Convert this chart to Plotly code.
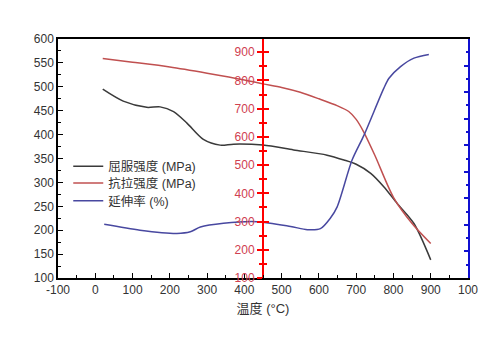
import plotly.graph_objects as go

# Yield strength (left axis, MPa)
t_yield = [20, 75, 138, 174, 210, 246, 290, 335, 371, 450, 532, 622, 667, 700, 739, 774, 810, 855, 900]
yield_mpa = [495, 470, 457, 458, 448, 424, 390, 378, 380, 378, 368, 357, 347, 338, 319, 291, 256, 214, 138]

# Tensile strength (red middle axis, MPa)
t_tensile = [20, 100, 200, 300, 400, 450, 500, 550, 600, 650, 680, 700, 720, 750, 800, 850, 900]
tensile_mpa = [878, 865, 848, 826, 802, 788, 775, 758, 735, 710, 690, 662, 618, 535, 386, 293, 222]

# Elongation (blue right axis, %)
t_elong = [24, 120, 219, 255, 282, 344, 434, 524, 569, 604, 631, 649, 689, 721, 774, 788, 819, 855, 895]
elong_pct = [10.1, 9.0, 8.4, 8.7, 9.6, 10.3, 10.6, 9.7, 9.1, 9.3, 11.3, 13.4, 22.2, 26.9, 35.7, 37.6, 39.8, 41.4, 42.1]

x_tickvals = [-100, 0, 100, 200, 300, 400, 500, 600, 700, 800, 900, 1000]
x_ticktext = ["-100", "0", "100", "200", "300", "400", "500", "600", "700", "800", "900", "100"]

names = ["屈服强度 (MPa)", "抗拉强度 (MPa)", "延伸率 (%)"]

font_family = "Arial, Liberation Sans, Noto Sans CJK SC, sans-serif"
RED_RANGE = [100, 947]

fig = go.Figure()
fig.add_trace(go.Scatter(x=t_yield, y=yield_mpa, name=names[0], mode="lines",
                         line=dict(color="#3a3a3a", width=1.5, shape="spline", smoothing=0.8),
                         yaxis="y", legend="legend"))
fig.add_trace(go.Scatter(x=t_tensile, y=tensile_mpa, name=names[1], mode="lines",
                         line=dict(color="#c05050", width=1.5, shape="spline", smoothing=0.8),
                         yaxis="y2", legend="legend2"))
fig.add_trace(go.Scatter(x=t_elong, y=elong_pct, name=names[2], mode="lines",
                         line=dict(color="#4848a0", width=1.5, shape="spline", smoothing=0.8),
                         yaxis="y3", legend="legend3"))

leg_common = dict(x=0.025, xanchor="left", yanchor="middle", bgcolor="rgba(0,0,0,0)",
                  font=dict(size=12.5, color="#333"), itemwidth=30)

fig.update_layout(
    width=500, height=340,
    margin=dict(l=58, r=32, t=39, b=62),
    paper_bgcolor="white", plot_bgcolor="white",
    font=dict(family=font_family, size=12, color="#333"),
    showlegend=True,
    legend=dict(y=0.466, **leg_common),
    legend2=dict(y=0.396, **leg_common),
    legend3=dict(y=0.322, **leg_common),
    xaxis=dict(range=[-100, 1000], tickvals=x_tickvals, ticktext=x_ticktext,
               showgrid=False, zeroline=False, showline=True, linecolor="black", linewidth=1.5,
               mirror=True, ticks="inside", ticklen=5, tickcolor="black",
               minor=dict(ticks="inside", ticklen=3, dtick=50, tickcolor="black"),
               title=dict(text="温度 (°C)", font=dict(size=13, color="#333"), standoff=8)),
    yaxis=dict(range=[100, 600], dtick=50, showgrid=False, zeroline=False,
               showline=True, linecolor="black", linewidth=1.5,
               ticks="inside", ticklen=5, tickcolor="black",
               minor=dict(ticks="inside", ticklen=3, dtick=25, tickcolor="black")),
    yaxis2=dict(range=RED_RANGE, tickvals=[100, 200, 300, 400, 500, 600, 700, 800, 900],
                overlaying="y", anchor="free", position=0.5, side="left",
                showgrid=False, zeroline=False, showline=True, linecolor="red", linewidth=2,
                ticks="outside", ticklen=5, tickcolor="red", tickwidth=2,
                tickfont=dict(color="#d04050"),
                minor=dict(ticks="outside", ticklen=3, dtick=50, tickcolor="red", tickwidth=1.5)),
    yaxis4=dict(range=RED_RANGE, tickvals=[100, 200, 300, 400, 500, 600, 700, 800, 900],
                overlaying="y", anchor="free", position=0.5, side="left",
                showgrid=False, zeroline=False, showline=False, showticklabels=False,
                ticks="inside", ticklen=5, tickcolor="red", tickwidth=2,
                minor=dict(ticks="inside", ticklen=3, dtick=50, tickcolor="red", tickwidth=1.5)),
    yaxis3=dict(range=[0, 45], dtick=5, overlaying="y", anchor="x", side="right",
                showgrid=False, zeroline=False, showline=True, linecolor="#1010d0", linewidth=2,
                showticklabels=False, ticks="inside", ticklen=4, tickcolor="#1010d0", tickwidth=1.5,
                minor=dict(ticks="inside", ticklen=2, dtick=2.5, tickcolor="#1010d0")),
)
# invisible trace to activate the second red tick axis
fig.add_trace(go.Scatter(x=[None], y=[None], yaxis="y4", showlegend=False, hoverinfo="skip"))

fig.write_html("out.html")
